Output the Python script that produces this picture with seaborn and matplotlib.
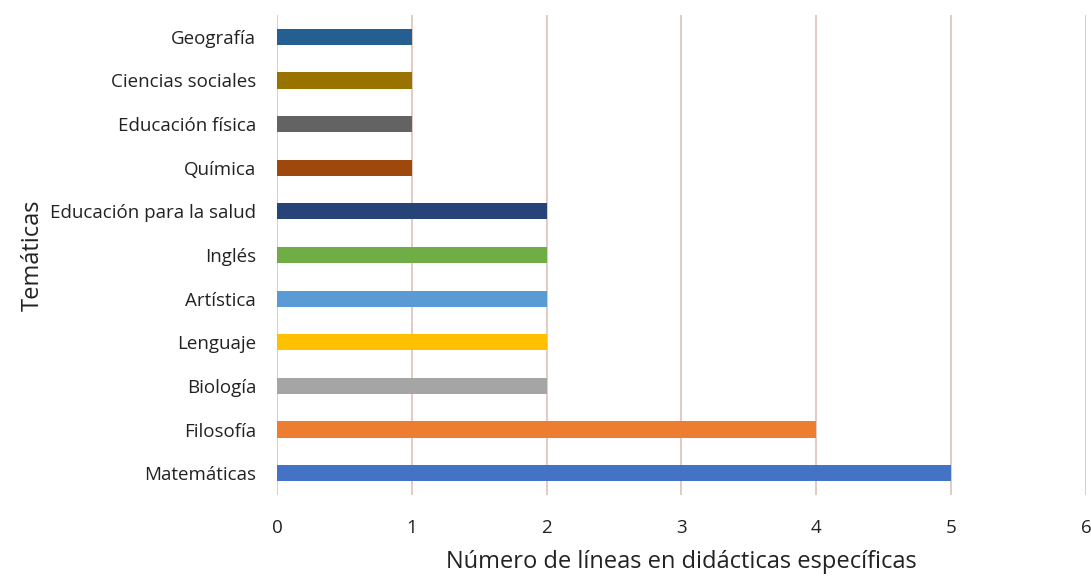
import matplotlib
matplotlib.use("Agg")
import matplotlib.pyplot as plt
import pandas as pd
import seaborn as sns

# ==========================================
# DATA
# ==========================================

tematicas = [
    "Geografía",
    "Ciencias sociales",
    "Educación física",
    "Química",
    "Educación para la salud",
    "Inglés",
    "Artística",
    "Lenguaje",
    "Biología",
    "Filosofía",
    "Matemáticas",
]

lineas = [1, 1, 1, 1, 2, 2, 2, 2, 2, 4, 5]

colores = [
    "#255E91",
    "#997300",
    "#636363",
    "#9E480E",
    "#264478",
    "#70AD47",
    "#5B9BD5",
    "#FFC000",
    "#A5A5A5",
    "#ED7D31",
    "#4472C4",
]

x_ticks = [0, 1, 2, 3, 4, 5, 6]

# ==========================================
# PLOT
# ==========================================

sns.set_style("white")
plt.rcParams["font.family"] = ["Open Sans", "DejaVu Sans"]

df = pd.DataFrame({"Temática": tematicas, "Líneas": lineas})

fig = plt.figure(figsize=(10.91, 5.78), dpi=100)
ax = fig.add_axes([0.2539, 0.1436, 0.7415, 0.8304])

sns.barplot(
    data=df,
    x="Líneas",
    y="Temática",
    hue="Temática",
    palette=colores,
    orient="h",
    width=0.37,
    legend=False,
    saturation=1,
    linewidth=0,
    ax=ax,
    zorder=3,
)

ax.set_xlim(0, 6)
ax.set_ylim(10.5, -0.5)
ax.set_xticks(x_ticks)
ax.set_xticklabels([str(t) for t in x_ticks])

ax.grid(axis="x", color="#D8BCB0", linewidth=1.1, zorder=0)
ax.grid(axis="y", visible=False)

for spine in ax.spines.values():
    spine.set_visible(False)

ax.tick_params(axis="both", length=0, labelsize=13.5, colors="#222222")
ax.tick_params(axis="x", pad=17)
ax.tick_params(axis="y", pad=15)

ax.set_xlabel(
    "Número de líneas en didácticas específicas",
    fontsize=17,
    color="#222222",
    labelpad=10,
)
ax.set_ylabel("Temáticas", fontsize=17, color="#222222", labelpad=4)

fig.savefig("out.png", dpi=100)
plt.close(fig)
